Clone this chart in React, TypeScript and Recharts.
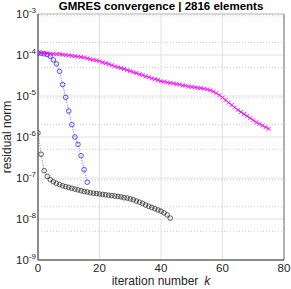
import React from 'react';
import {
  LineChart,
  Line,
  XAxis,
  YAxis,
  CartesianGrid,
  ReferenceLine,
  Label,
} from 'recharts';

// iteration numbers 0..75
const iterations = Array.from({ length: 76 }, (_, i) => i);

// magenta x markers, all 76 iterations
const residualMagenta = [
  1.12e-4, 1.12e-4, 1.1e-4, 1.1e-4, 1.07e-4, 1.07e-4, 1.05e-4, 1.05e-4, 1.02e-4, 1.0e-4,
  9.77e-5, 9.55e-5, 9.33e-5, 9.12e-5, 8.91e-5, 8.71e-5, 8.32e-5, 7.94e-5, 7.59e-5, 7.41e-5,
  7.08e-5, 6.61e-5, 6.31e-5, 6.03e-5, 5.62e-5, 5.25e-5, 5.01e-5, 4.79e-5, 4.57e-5, 4.27e-5,
  4.07e-5, 3.8e-5, 3.63e-5, 3.39e-5, 3.24e-5, 3.02e-5, 2.88e-5, 2.69e-5, 2.57e-5, 2.45e-5,
  2.29e-5, 2.24e-5, 2.14e-5, 2.09e-5, 2.04e-5, 1.95e-5, 1.91e-5, 1.82e-5, 1.78e-5, 1.7e-5,
  1.66e-5, 1.62e-5, 1.58e-5, 1.55e-5, 1.51e-5, 1.45e-5, 1.38e-5, 1.29e-5, 1.17e-5, 1.05e-5,
  9.12e-6, 7.94e-6, 6.92e-6, 6.03e-6, 5.25e-6, 4.57e-6, 4.07e-6, 3.63e-6, 3.24e-6, 2.88e-6,
  2.57e-6, 2.29e-6, 2.09e-6, 1.91e-6, 1.74e-6, 1.58e-6,
];

// blue circles, iterations 0..16
const residualBlue = [
  1.11e-4, 1.11e-4, 1.07e-4, 1.03e-4, 9.3e-5, 7.6e-5, 6.1e-5, 4.0e-5, 1.9e-5, 9.3e-6,
  4.3e-6, 2.0e-6, 1.0e-6, 6.6e-7, 3.5e-7, 1.6e-7, 7.9e-8,
];

// black circles, iterations 0..43
const residualBlack = [
  1.26e-6, 3.8e-7, 1.51e-7, 1.1e-7, 9.12e-8, 8.13e-8, 7.41e-8, 6.92e-8, 6.46e-8, 6.17e-8,
  5.89e-8, 5.62e-8, 5.37e-8, 5.13e-8, 4.9e-8, 4.68e-8, 4.57e-8, 4.37e-8, 4.27e-8, 4.17e-8,
  4.07e-8, 3.98e-8, 3.89e-8, 3.8e-8, 3.72e-8, 3.63e-8, 3.55e-8, 3.47e-8, 3.31e-8, 3.24e-8,
  3.09e-8, 2.95e-8, 2.75e-8, 2.57e-8, 2.4e-8, 2.19e-8, 2.04e-8, 1.91e-8, 1.78e-8, 1.66e-8,
  1.55e-8, 1.41e-8, 1.26e-8, 1.05e-8,
];

const xTicks = [0, 20, 40, 60, 80];
const yExponents = [-9, -8, -7, -6, -5, -4, -3];
const yTicks = yExponents.map((e) => Math.pow(10, e));
// minor log grid: 2..9 x each decade
const yMinor = yExponents
  .slice(0, -1)
  .flatMap((e) => [2, 3, 4, 5, 6, 7, 8, 9].map((m) => m * Math.pow(10, e)));

const data = iterations.map((k) => ({
  k,
  magenta: residualMagenta[k],
  blue: residualBlue[k],
  black: residualBlack[k],
}));

const FONT = '"Liberation Sans", Arial, sans-serif';
const AXIS = '#262626';

const YTick = (props: any) => {
  const { x, y, payload } = props;
  const exp = Math.round(Math.log10(payload.value));
  return (
    <text x={x} y={y + 4} textAnchor="end" fontSize={11.5} fill={AXIS} fontFamily={FONT}>
      10
      <tspan dy={-5} fontSize={8}>
        {exp}
      </tspan>
    </text>
  );
};

const CrossDot = (props: any) => {
  const { cx, cy, index } = props;
  if (cx == null || cy == null || isNaN(cy)) return <g key={`m-${index}`} />;
  const s = 2;
  return (
    <path
      key={`m-${index}`}
      d={`M${cx - s},${cy - s}L${cx + s},${cy + s}M${cx - s},${cy + s}L${cx + s},${cy - s}`}
      stroke="#ff00ff"
      strokeWidth={0.9}
      fill="none"
    />
  );
};

const circleDot = (color: string, prefix: string) => (props: any) => {
  const { cx, cy, index } = props;
  if (cx == null || cy == null || isNaN(cy)) return <g key={`${prefix}-${index}`} />;
  return (
    <circle
      key={`${prefix}-${index}`}
      cx={cx}
      cy={cy}
      r={2.3}
      stroke={color}
      strokeWidth={0.8}
      fill="none"
    />
  );
};

export default function App() {
  return (
    <div style={{ position: 'absolute', left: 0, top: 0, width: 291, height: 289, background: '#fff' }}>
      <LineChart
        width={291}
        height={289}
        data={data}
        margin={{ top: 14, right: 7, bottom: 0, left: 0 }}
      >
        <CartesianGrid
          horizontalValues={yMinor}
          vertical={false}
          stroke="#cfcfcf"
          strokeDasharray="1 2"
        />
        <CartesianGrid
          horizontalValues={yTicks}
          verticalValues={xTicks}
          stroke="#e2e2e2"
        />
        <XAxis
          dataKey="k"
          type="number"
          domain={[0, 80]}
          ticks={xTicks}
          height={29}
          tickSize={0}
          tickMargin={4}
          stroke={AXIS}
          tick={{ fontSize: 11.5, fill: AXIS, fontFamily: FONT }}
          allowDataOverflow
        >
          <Label
            content={(p: any) => {
              const vb = p.viewBox;
              return (
                <text
                  x={vb.x + vb.width / 2}
                  y={vb.y + 25}
                  textAnchor="middle"
                  fontSize={12}
                  fill={AXIS}
                  fontFamily={FONT}
                >
                  iteration number
                  <tspan dx={6} fontStyle="italic">k</tspan>
                </text>
              );
            }}
          />
        </XAxis>
        <YAxis
          scale="log"
          domain={[1e-9, 1e-3]}
          ticks={yTicks}
          width={38}
          tickSize={0}
          stroke={AXIS}
          tick={<YTick />}
          allowDataOverflow
        >
          <Label
            content={(p: any) => {
              const vb = p.viewBox;
              const cy = vb.y + vb.height / 2;
              return (
                <text
                  x={11}
                  y={cy}
                  transform={`rotate(-90 11 ${cy})`}
                  textAnchor="middle"
                  fontSize={12}
                  fill={AXIS}
                  fontFamily={FONT}
                >
                  residual norm
                </text>
              );
            }}
          />
        </YAxis>
        <ReferenceLine x={80} stroke="#9a9a9a" strokeWidth={1.5} />
        <ReferenceLine y={1e-3} stroke="#bdbdbd">
          <Label
            content={(p: any) => {
              const vb = p.viewBox;
              return (
                <text
                  x={vb.x + vb.width / 2}
                  y={10}
                  textAnchor="middle"
                  fontSize={11.5}
                  fontWeight="bold"
                  fill="#000"
                  fontFamily={FONT}
                >
                  GMRES convergence | 2816 elements
                </text>
              );
            }}
          />
        </ReferenceLine>
        <Line
          dataKey="black"
          stroke="#555555"
          strokeWidth={0.7}
          strokeDasharray="1 1.5"
          dot={circleDot('#333333', 'k')}
          isAnimationActive={false}
        />
        <Line
          dataKey="blue"
          stroke="#2a2aff"
          strokeWidth={0.7}
          strokeDasharray="1 1.5"
          dot={circleDot('#2a2aff', 'b')}
          isAnimationActive={false}
        />
        <Line
          dataKey="magenta"
          stroke="#ff00ff"
          strokeWidth={0.8}
          dot={CrossDot}
          isAnimationActive={false}
        />
      </LineChart>
    </div>
  );
}
